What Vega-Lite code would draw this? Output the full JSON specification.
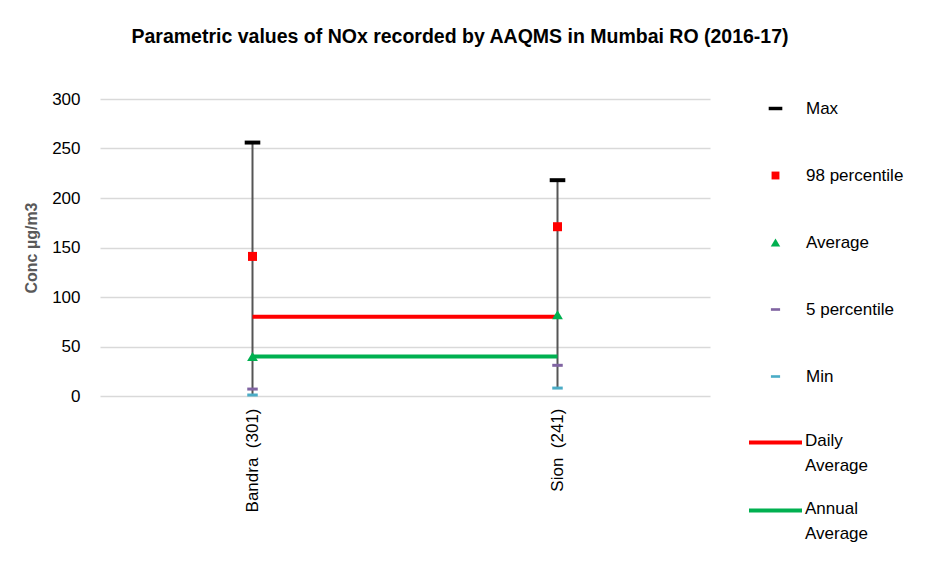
{
  "$schema": "https://vega.github.io/schema/vega-lite/v6.json",
  "width": 610,
  "height": 297,
  "autosize": {"type": "none"},
  "padding": {"left": 100, "top": 99, "right": 224, "bottom": 186},
  "background": "white",
  "config": {
    "font": "Liberation Sans",
    "view": {"stroke": null},
    "axis": {"labelFont": "Liberation Sans", "titleFont": "Liberation Sans"},
    "legend": {"labelFont": "Liberation Sans"}
  },
  "title": {
    "text": "Parametric values of NOx recorded by AAQMS in Mumbai RO (2016-17)",
    "font": "Liberation Sans",
    "fontSize": 19.5,
    "fontWeight": "bold",
    "color": "#000000",
    "anchor": "middle",
    "frame": "group",
    "dx": 55,
    "offset": 43
  },
  "datasets": {
    "stats": [
      {"station": "Bandra \u00a0(301)", "series": "Max", "value": 256},
      {"station": "Bandra \u00a0(301)", "series": "98 percentile", "value": 141},
      {"station": "Bandra \u00a0(301)", "series": "Average", "value": 40},
      {"station": "Bandra \u00a0(301)", "series": "5 percentile", "value": 7},
      {"station": "Bandra \u00a0(301)", "series": "Min", "value": 1},
      {"station": "Sion \u00a0(241)", "series": "Max", "value": 218},
      {"station": "Sion \u00a0(241)", "series": "98 percentile", "value": 171},
      {"station": "Sion \u00a0(241)", "series": "Average", "value": 82},
      {"station": "Sion \u00a0(241)", "series": "5 percentile", "value": 31},
      {"station": "Sion \u00a0(241)", "series": "Min", "value": 8}
    ],
    "lines": [
      {"station": "Bandra \u00a0(301)", "line": "Daily Average", "value": 80},
      {"station": "Sion \u00a0(241)", "line": "Daily Average", "value": 80},
      {"station": "Bandra \u00a0(301)", "line": "Annual Average", "value": 40},
      {"station": "Sion \u00a0(241)", "line": "Annual Average", "value": 40}
    ]
  },
  "encoding": {
    "x": {
      "field": "station",
      "type": "nominal",
      "sort": null,
      "scale": {"type": "point", "padding": 0.5},
      "axis": {
        "title": null,
        "labelAngle": -90,
        "labelFontSize": 17,
        "labelColor": "#000000",
        "labelPadding": 12,
        "ticks": false,
        "domain": false,
        "grid": false
      }
    }
  },
  "layer": [
    {
      "data": {"name": "stats"},
      "mark": {"type": "rule", "color": "#555555", "strokeWidth": 2},
      "encoding": {
        "y": {
          "aggregate": "min",
          "field": "value",
          "type": "quantitative",
          "scale": {"domain": [0, 300]},
          "axis": {
            "title": "Conc µg/m3",
            "titleFontSize": 16,
            "titleFontWeight": "bold",
            "titleColor": "#595959",
            "titlePadding": 12,
            "values": [0, 50, 100, 150, 200, 250, 300],
            "labelFontSize": 17,
            "labelColor": "#000000",
            "labelPadding": 20,
            "ticks": false,
            "domain": false,
            "gridColor": "#d9d9d9",
            "gridWidth": 1.5
          }
        },
        "y2": {"aggregate": "max", "field": "value"}
      }
    },
    {
      "data": {"name": "lines"},
      "mark": {"type": "line", "strokeWidth": 4},
      "encoding": {
        "y": {"field": "value", "type": "quantitative"},
        "detail": {"field": "line"},
        "stroke": {
          "field": "line",
          "type": "nominal",
          "scale": {"domain": ["Daily Average", "Annual Average"], "range": ["#ff0000", "#00b050"]},
          "legend": {
            "title": null,
            "orient": "none",
            "legendX": 647,
            "legendY": 315,
            "padding": 0,
            "symbolType": "stroke",
            "symbolSize": 2809,
            "symbolStrokeWidth": 4,
            "labelOffset": 1,
            "labelFontSize": 17,
            "labelColor": "#000000",
            "labelExpr": "split(datum.label, ' ')",
            "labelBaseline": "top",
            "rowPadding": 8,
            "encode": {"labels": {"update": {"dy": {"value": -10}, "lineHeight": {"value": 25}}}}
          }
        }
      }
    },
    {
      "data": {"name": "stats"},
      "mark": {"type": "point", "filled": true, "opacity": 1, "size": 144, "strokeWidth": 0},
      "encoding": {
        "y": {"field": "value", "type": "quantitative"},
        "color": {
          "field": "series",
          "type": "nominal",
          "scale": {
            "domain": ["Max", "98 percentile", "Average", "5 percentile", "Min"],
            "range": ["#000000", "#ff0000", "#00b050", "#8064a2", "#4bacc6"]
          },
          "legend": {
            "title": null,
            "orient": "none",
            "legendX": 667,
            "legendY": 1,
            "padding": 0,
            "symbolSize": 110,
            "symbolStrokeWidth": 0,
            "labelOffset": 22,
            "labelFontSize": 17,
            "labelColor": "#000000",
            "rowPadding": 49
          }
        },
        "shape": {
          "field": "series",
          "type": "nominal",
          "scale": {
            "domain": ["Max", "98 percentile", "Average", "5 percentile", "Min"],
            "range": [
              "M-1.3,-0.33H1.3V0.33H-1.3Z",
              "M-0.75,-0.75H0.75V0.75H-0.75Z",
              "M0,-0.75L0.9,0.75H-0.9Z",
              "M-0.875,-0.25H0.875V0.25H-0.875Z",
              "M-0.875,-0.25H0.875V0.25H-0.875Z"
            ]
          },
          "legend": {
            "title": null,
            "orient": "none",
            "legendX": 667,
            "legendY": 1,
            "padding": 0,
            "symbolSize": 110,
            "symbolStrokeWidth": 0,
            "labelOffset": 22,
            "labelFontSize": 17,
            "labelColor": "#000000",
            "rowPadding": 49
          }
        }
      }
    }
  ]
}
